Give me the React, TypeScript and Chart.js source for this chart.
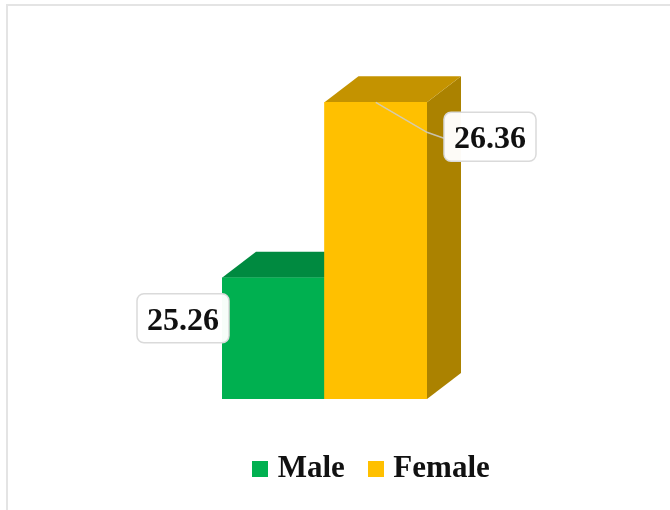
import React, { useEffect, useRef } from "react";
import { Chart, registerables } from "chart.js";

Chart.register(...registerables);

const categories = ["Male", "Female"];
const values = [25.26, 26.36];
const frontColors = ["#00B050", "#FFC000"];
const topColors = ["#008A40", "#C49300"];
const sideColors = ["#008A40", "#AB8200"];

const FONT = '"Liberation Serif", "Times New Roman", serif';
const AXIS_MIN = 24.5;
const AXIS_MAX = 26.5;
const DEPTH_X = 34;
const DEPTH_Y = 26;

function polygon(ctx: CanvasRenderingContext2D, pts: number[][], fill: string) {
  ctx.beginPath();
  pts.forEach(([x, y], i) => (i ? ctx.lineTo(x, y) : ctx.moveTo(x, y)));
  ctx.closePath();
  ctx.fillStyle = fill;
  ctx.fill();
}

function swatch(color: string) {
  const c = document.createElement("canvas");
  c.width = 16;
  c.height = 16;
  const g = c.getContext("2d")!;
  g.fillStyle = color;
  g.fillRect(0, 0, 16, 16);
  return c;
}

// Thin frame around the whole figure, drawn behind everything else.
const framePlugin = {
  id: "frame",
  beforeDraw(chart: any) {
    const { ctx } = chart;
    ctx.save();
    ctx.strokeStyle = "#E4E4E4";
    ctx.lineWidth = 2;
    ctx.beginPath();
    ctx.moveTo(7, chart.height);
    ctx.lineTo(7, 5);
    ctx.lineTo(chart.width, 5);
    ctx.stroke();
    ctx.restore();
  },
};

// Nudges the legend to its place below the columns.
const legendPlacement = {
  id: "legendPlacement",
  afterLayout(chart: any) {
    const l = chart.legend;
    l.left += 39;
    l.right += 39;
    l.top += 25;
    l.bottom += 25;
  },
};

// Top and side faces that give the flat bars their extruded look.
const extrusion = {
  id: "extrusion",
  beforeDatasetsDraw(chart: any) {
    const { ctx } = chart;
    const bars = chart.getDatasetMeta(0).data;
    const base = chart.scales.y.getPixelForValue(AXIS_MIN);
    ctx.save();
    bars.forEach((bar: any, i: number) => {
      const { x, y, width } = bar.getProps(["x", "y", "width"], true);
      const l = x - width / 2;
      const r = x + width / 2;
      polygon(ctx, [[r, y], [r + DEPTH_X, y - DEPTH_Y], [r + DEPTH_X, base - DEPTH_Y], [r, base]], sideColors[i]);
      polygon(ctx, [[l, y], [l + DEPTH_X, y - DEPTH_Y], [r + DEPTH_X, y - DEPTH_Y], [r, y]], topColors[i]);
    });
    ctx.restore();
  },
};

function roundedBox(ctx: CanvasRenderingContext2D, x: number, y: number, w: number, h: number) {
  ctx.beginPath();
  ctx.roundRect(x, y, w, h, 7);
  ctx.fillStyle = "rgba(255,255,255,0.97)";
  ctx.fill();
  ctx.strokeStyle = "#DADADA";
  ctx.lineWidth = 1.5;
  ctx.stroke();
}

// Boxed value callouts; the taller column's callout has a leader line.
const callouts = {
  id: "callouts",
  afterDatasetsDraw(chart: any) {
    const { ctx } = chart;
    const bars = chart.getDatasetMeta(0).data;
    const w = 92;
    const h = 49;
    ctx.save();
    bars.forEach((bar: any, i: number) => {
      const { x, y, width } = bar.getProps(["x", "y", "width"], true);
      const l = x - width / 2;
      const r = x + width / 2;
      const bx = i === 0 ? l - 85 : r + 17;
      const by = i === 0 ? y + 16 : y + 10;
      if (i === 1) {
        ctx.beginPath();
        ctx.moveTo(x, y);
        ctx.lineTo(r, y + 30);
        ctx.lineTo(bx, y + 36);
        ctx.strokeStyle = "rgba(205,205,205,0.85)";
        ctx.lineWidth = 1.5;
        ctx.stroke();
      }
      roundedBox(ctx, bx, by, w, h);
      ctx.fillStyle = "#111111";
      ctx.font = `bold 32px ${FONT}`;
      ctx.textAlign = "center";
      ctx.textBaseline = "middle";
      ctx.fillText(values[i].toFixed(2), bx + w / 2, by + h / 2 + 3);
    });
    ctx.restore();
  },
};

export default function App() {
  const ref = useRef<HTMLCanvasElement>(null);

  useEffect(() => {
    const swatches = frontColors.map(swatch);
    const chart = new Chart(ref.current!, {
      type: "bar",
      data: {
        labels: categories,
        datasets: [
          {
            data: values,
            base: AXIS_MIN,
            backgroundColor: frontColors,
            barPercentage: 1,
            categoryPercentage: 1,
            borderWidth: 0,
          },
        ],
      },
      plugins: [framePlugin, legendPlacement, extrusion, callouts],
      options: {
        responsive: false,
        animation: false,
        layout: { padding: { top: 80, bottom: 41 } },
        plugins: {
          title: { display: false },
          tooltip: { enabled: false },
          legend: {
            display: true,
            position: "bottom",
            labels: {
              usePointStyle: true,
              pointStyleWidth: 4,
              padding: 29,
              color: "#111111",
              font: { family: FONT, size: 31, weight: "bold" },
              generateLabels: (c: any) =>
                c.data.labels.map((text: string, i: number) => ({
                  text,
                  fillStyle: frontColors[i],
                  strokeStyle: frontColors[i],
                  fontColor: "#111111",
                  pointStyle: swatches[i],
                  lineWidth: 0,
                  hidden: false,
                  index: i,
                })),
            },
          },
        },
        scales: {
          x: { display: false, offset: true, grid: { display: false } },
          y: {
            position: "left",
            min: AXIS_MIN,
            max: AXIS_MAX,
            grid: { display: false },
            border: { display: false },
            ticks: { display: false },
            afterFit: (s: any) => {
              s.width = 222;
            },
          },
          yRight: {
            position: "right",
            min: AXIS_MIN,
            max: AXIS_MAX,
            grid: { display: false },
            border: { display: false },
            ticks: { display: false },
            afterFit: (s: any) => {
              s.width = 243;
            },
          },
        },
      } as any,
    });
    return () => chart.destroy();
  }, []);

  return (
    <>
      <style>{"html,body{margin:0;padding:0;background:#fff}"}</style>
      <canvas ref={ref} width={670} height={510} style={{ display: "block" }} />
    </>
  );
}
